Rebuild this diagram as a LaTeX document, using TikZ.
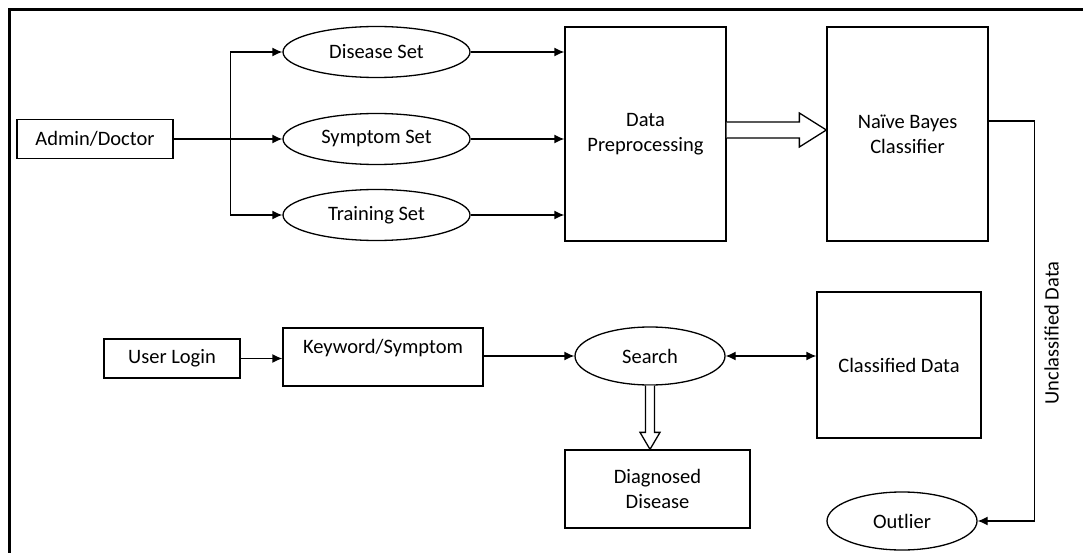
\documentclass[tikz,border=0pt]{standalone}
\usepackage{fontspec}
\setmainfont{Carlito}
\usetikzlibrary{arrows.meta,shapes.geometric,calc,positioning}

\begin{document}
\begin{tikzpicture}[
x=1pt, y=1pt,
font=\fontsize{20.5}{25}\selectfont,
  rbox/.style = {rectangle, draw, line width=1.3pt,% boxes
                 inner sep=0pt, align=center},
  oval/.style = {ellipse, draw, line width=1.3pt,% ellipses
                 inner sep=0pt, minimum width=187pt, minimum height=51pt},
   arr/.style = {line width=1.3pt, -{Latex[length=10pt,width=9pt]}},
  darr/.style = {line width=1.3pt, {Latex[length=10pt,width=9pt]}-{Latex[length=10pt,width=9pt]}},
hollow/.style = {line width=1.3pt, draw, fill=white},
                        ]
\useasboundingbox (0,0) rectangle (1083,-553);
\draw[line width=3pt] (9.5,-553) -- (9.5,-9.5) -- (1083,-9.5);
% upper row
\node[rbox, minimum width=156pt, minimum height=39pt] (admin) at (95,-139) {Admin/Doctor};
\node[oval] (dis) at (376.5,-52)  {Disease Set};
\node[oval] (sym) at (376.5,-139) {Symptom Set};
\node[oval] (trn) at (376.5,-215) {Training Set};
\node[rbox, minimum width=161pt, minimum height=214pt] (dp) at (645.5,-134) {Data\\Preprocessing};
\node[rbox, minimum width=161pt, minimum height=214pt] (nb) at (907.5,-134) {Naïve Bayes\\Classifier};
% lower row
\node[rbox, minimum width=136pt, minimum height=39pt] (login) at (172,-358.5) {User Login};
\node[rbox, minimum width=200pt, minimum height=58pt,
      label={[anchor=north, yshift=-8pt]north:Keyword/Symptom}] (kw) at (383,-357) {};
\node[oval, minimum width=150pt, minimum height=58pt] (search) at (650,-356) {Search};
\node[rbox, minimum width=164pt, minimum height=146pt] (cls) at (899,-365) {Classified Data};
\node[rbox, minimum width=185pt, minimum height=78pt] (diag) at (657.5,-489) {Diagnosed\\Disease};
\node[oval, minimum width=150pt, minimum height=58pt] (outl) at (902,-521) {Outlier};
% connectors
\coordinate (br) at ($(admin.east)!0.52!(sym.west)$);
\draw[arr] (admin.east) -- (sym.west);
\draw[arr] (br) |- (dis.west);
\draw[arr] (br) |- (trn.west);
\foreach \s in {dis,sym,trn}
    \draw[arr] (\s.east) -- (\s.east -| dp.west);
\draw[hollow] ($(dp.east)+(0,12)$) -- ($(nb.west)+(-27,12)$) -- ++(0,9)
    -- ([yshift=4pt]nb.west) -- ++(-27,-17) -- ++(0,9) -- ($(dp.east)+(0,-4)$);
\draw[arr] ([yshift=13pt]nb.east) -- ++(46,0) |-
    node[pos=0.265, rotate=90, anchor=north, inner sep=9pt] {Unclassified Data} (outl.east);
\draw[arr] (login.east) -- (login.east -| kw.west);
\draw[arr] (kw.east |- search.west) -- (search.west);
\draw[darr] (search.east) -- (search.east -| cls.west);
\draw[hollow] ($(search.south)+(-4.5,0)$) -- ($(search.south |- diag.north)+(-4.5,17)$)
    -- ++(-5.5,0) -- (search.south |- diag.north) -- ++(10,17) -- ++(-5.5,0)
    -- ($(search.south)+(4.5,0)$);
\end{tikzpicture}
\end{document}
